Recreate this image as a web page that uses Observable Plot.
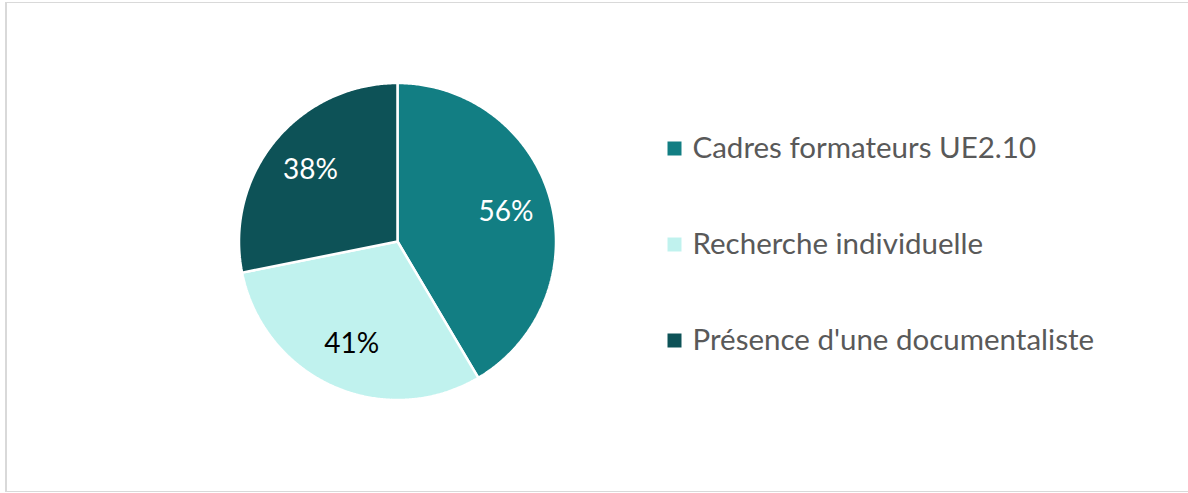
<!DOCTYPE html>
<html><head><meta charset="utf-8">
<script src="https://cdn.jsdelivr.net/npm/d3@7"></script>
<script src="https://cdn.jsdelivr.net/npm/@observablehq/plot@0.6"></script>
<style>
body{margin:0;background:#fff;}
#frame{position:relative;width:1188px;height:493px;overflow:hidden;background:#fff;}
#border{position:absolute;left:5px;top:2px;width:1195px;height:490px;border:1px solid #d9d9d9;border-left-width:2px;box-sizing:border-box;}
#pie{position:absolute;left:231.5px;top:76px;}
#legend{position:absolute;left:667px;top:100px;}
</style></head><body>
<div id="frame"><div id="border"></div><div id="pie"></div><div id="legend"></div></div>
<script>
const categories = ["Cadres formateurs UE2.10", "Recherche individuelle", "Présence d'une documentaliste"];
const values = [56, 41, 38];
const labels = ["56%", "41%", "38%"];
const colors = ["#127e83", "#c0f2ee", "#0d5257"];
const labelColors = ["#ffffff", "#000000", "#ffffff"];

const rows = categories.map((c, i) => ({category: c, value: values[i], label: labels[i], color: colors[i], labelColor: labelColors[i]}));
const arcs = d3.pie().sort(null).value(d => d.value)(rows);

// slice outlines (center + arc) in unit-circle coordinates
const slicePoints = arcs.flatMap(a => {
  const n = Math.max(2, Math.ceil((a.endAngle - a.startAngle) / (Math.PI / 360)));
  const pts = [{category: a.data.category, color: a.data.color, x: 0, y: 0}];
  for (let k = 0; k <= n; k++) {
    const t = a.startAngle + (a.endAngle - a.startAngle) * k / n;
    pts.push({category: a.data.category, color: a.data.color, x: Math.sin(t), y: Math.cos(t)});
  }
  pts.push({category: a.data.category, color: a.data.color, x: 0, y: 0});
  return pts;
});
const labelRadius = 0.71;
const labelPoints = arcs.map(a => {
  const m = (a.startAngle + a.endAngle) / 2;
  return {label: a.data.label, fill: a.data.labelColor, x: labelRadius * Math.sin(m), y: labelRadius * Math.cos(m)};
});

const R = 158.5, S = 330, half = (S / 2) / R;
const pie = Plot.plot({
  width: S, height: S, margin: 0,
  x: {domain: [-half, half], axis: null},
  y: {domain: [-half, half], axis: null},
  color: {type: "identity"},
  style: {fontFamily: "Lato, sans-serif", background: "transparent", overflow: "visible"},
  marks: [
    Plot.line(slicePoints, {x: "x", y: "y", z: "category", fill: "color", stroke: "#ffffff", strokeWidth: 2.5, strokeLinejoin: "miter"}),
    Plot.text(labelPoints, {x: "x", y: "y", text: "label", fill: "fill", fontSize: 28, fontFamily: "Lato, sans-serif"})
  ]
});
document.getElementById("pie").appendChild(pie);

const legend = Plot.plot({
  width: 480, height: 290, margin: 0,
  y: {type: "point", padding: 0, domain: categories, range: [47.5, 240.5], axis: null},
  color: {type: "identity"},
  style: {fontFamily: "Lato, sans-serif", background: "transparent", overflow: "visible"},
  marks: [
    Plot.dot(rows, {y: "category", frameAnchor: "left", dx: 7, symbol: "square", r: 7.9, fill: "color", stroke: null}),
    Plot.text(rows, {y: "category", frameAnchor: "left", dx: 25, text: "category", textAnchor: "start", fill: "#595959", fontSize: 29.5, fontFamily: "Lato, sans-serif"})
  ]
});
document.getElementById("legend").appendChild(legend);
</script>
</body></html>
